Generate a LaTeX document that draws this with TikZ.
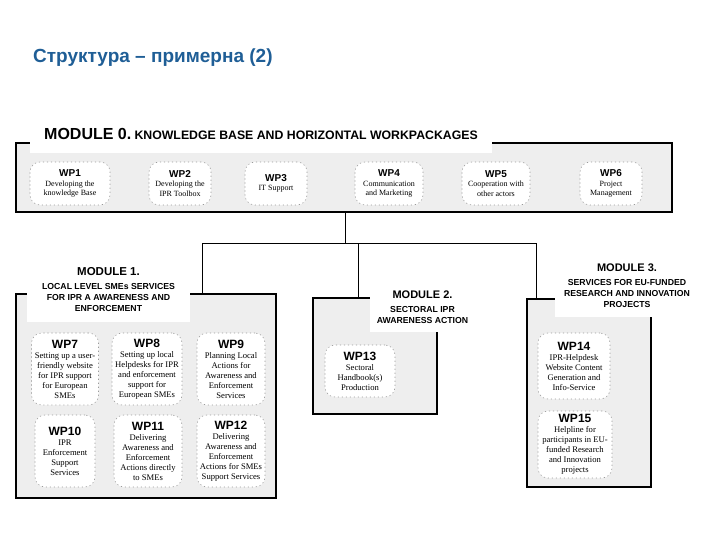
\documentclass[tikz,border=0pt]{standalone}
\usepackage{fontspec}
\setmainfont{Liberation Serif}
\setsansfont{Liberation Sans}
\definecolor{zaglavie}{HTML}{1F5E96}
\definecolor{fon}{HTML}{EEEEEE}
\definecolor{ramka}{HTML}{9A9A9A}
\newcommand\wpime[1]{{\sffamily\bfseries\fontsize{12}{13}\selectfont #1}}
\newcommand\wpmalko[1]{{\sffamily\bfseries\fontsize{10}{11}\selectfont #1}}

\begin{document}
\begin{tikzpicture}[x=1pt, y=-1pt,
    modul/.style={draw=black, line width=1.1pt, fill=fon, inner sep=0pt},
    etiketa/.style={fill=white, align=center, inner sep=0pt,
      font=\sffamily\bfseries\fontsize{8.7}{11}\selectfont},
    paket/.style={draw=ramka, fill=white, rounded corners=10pt, line width=0.6pt,
      dash pattern=on 1.2pt off 2.8pt, align=center, inner sep=1pt,
      font=\fontsize{8.6}{10}\selectfont},
    vrazka/.style={draw=black, line width=1pt}]
  \useasboundingbox (0,0) rectangle (720,540);
  \node[anchor=west, inner sep=0pt, text=zaglavie, font=\sffamily\bfseries\fontsize{19}{21}\selectfont]
    (zagl) at (33,58) {Структура – примерна (2)};
  % модулите
  \node[modul, minimum width=656, minimum height=69] (m0) at (344,177.5) {};
  \node[modul, minimum width=260, minimum height=204] (m1) at (146,396) {};
  \node[modul, minimum width=124, minimum height=116] (m2) at (375,356) {};
  \node[modul, minimum width=124, minimum height=188] (m3) at (589,393) {};
  % връзки
  \coordinate (uzel) at (345,243);
  \coordinate (k1) at (202,243);
  \coordinate (k2) at (358,243);
  \coordinate (k3) at (536,243);
  \draw[vrazka] (m0.south -| uzel) -- (uzel);
  \draw[vrazka] (k1 |- m1.north) -- (k1) -- (k3) -- (k3 |- m3.north);
  \draw[vrazka] (k2) -- (k2 |- m2.north);
  % надписи на модулите
  \node[etiketa, minimum width=462, minimum height=38] (e0) at (261,134)
    {{\fontsize{16}{18}\selectfont MODULE 0.} {\fontsize{12.3}{14}\selectfont KNOWLEDGE BASE AND HORIZONTAL WORKPACKAGES}};
  \node[etiketa, minimum width=163, minimum height=64] (e1) at (108.5,290)
    {{\fontsize{11.5}{13}\selectfont MODULE 1.}\\[3pt] LOCAL LEVEL SMEs SERVICES\\ FOR IPR A AWARENESS AND\\ ENFORCEMENT};
  \node[etiketa, minimum width=105, minimum height=50] (e2) at (422.5,307)
    {{\fontsize{11}{13}\selectfont MODULE 2.}\\[3pt] SECTORAL IPR\\ AWARENESS ACTION};
  \node[etiketa, minimum width=145, minimum height=62] (e3) at (627,286)
    {{\fontsize{11}{13}\selectfont MODULE 3.}\\[3pt] SERVICES FOR EU-FUNDED\\ RESEARCH AND INNOVATION\\ PROJECTS};
  % модул 0
  \node[paket, font=\fontsize{8}{9.5}\selectfont, minimum width=80, minimum height=43] (wp1) at (70,183.5)
    {\wpmalko{WP1}\\ Developing the\\ knowledge Base};
  \node[paket, font=\fontsize{8}{9.5}\selectfont, minimum width=62, minimum height=43] (wp2) at (180,183.5)
    {\wpmalko{WP2}\\ Developing the\\ IPR Toolbox};
  \node[paket, font=\fontsize{8}{9.5}\selectfont, minimum width=62, minimum height=43] (wp3) at (276,183.5)
    {\wpmalko{WP3}\\ IT Support};
  \node[paket, font=\fontsize{8}{9.5}\selectfont, minimum width=68, minimum height=43] (wp4) at (389,183.5)
    {\wpmalko{WP4}\\ Communication\\ and Marketing};
  \node[paket, font=\fontsize{8}{9.5}\selectfont, minimum width=68, minimum height=43] (wp5) at (496,183.5)
    {\wpmalko{WP5}\\ Cooperation with\\ other actors};
  \node[paket, font=\fontsize{8}{9.5}\selectfont, minimum width=62, minimum height=43] (wp6) at (611,183.5)
    {\wpmalko{WP6}\\ Project\\ Management};
  % модул 1
  \node[paket, minimum width=67, minimum height=72] (wp7) at (65,369)
    {\wpime{WP7}\\ Setting up a user-\\ friendly website\\ for IPR support\\ for European\\ SMEs};
  \node[paket, minimum width=70, minimum height=72] (wp8) at (147,369)
    {\wpime{WP8}\\ Setting up local\\ Helpdesks for IPR\\ and enforcement\\ support for\\ European SMEs};
  \node[paket, minimum width=68, minimum height=72] (wp9) at (231,369)
    {\wpime{WP9}\\ Planning Local\\ Actions for\\ Awareness and\\ Enforcement\\ Services};
  \node[paket, minimum width=60, minimum height=72] (wp10) at (65,451)
    {\wpime{WP10}\\ IPR\\ Enforcement\\ Support\\ Services};
  \node[paket, minimum width=68, minimum height=72] (wp11) at (148,451)
    {\wpime{WP11}\\ Delivering\\ Awareness and\\ Enforcement\\ Actions directly\\ to SMEs};
  \node[paket, minimum width=68, minimum height=72] (wp12) at (231,451)
    {\wpime{WP12}\\ Delivering\\ Awareness and\\ Enforcement\\ Actions for SMEs\\ Support Services};
  % модул 2 и 3
  \node[paket, minimum width=70, minimum height=52] (wp13) at (360,371)
    {\wpime{WP13}\\ Sectoral\\ Handbook(s)\\ Production};
  \node[paket, minimum width=72, minimum height=66] (wp14) at (574,366)
    {\wpime{WP14}\\ IPR-Helpdesk\\ Website Content\\ Generation and\\ Info-Service};
  \node[paket, minimum width=74, minimum height=67] (wp15) at (575,444.5)
    {\wpime{WP15}\\ Helpline for\\ participants in EU-\\ funded Research\\ and Innovation\\ projects};
\end{tikzpicture}
\end{document}
